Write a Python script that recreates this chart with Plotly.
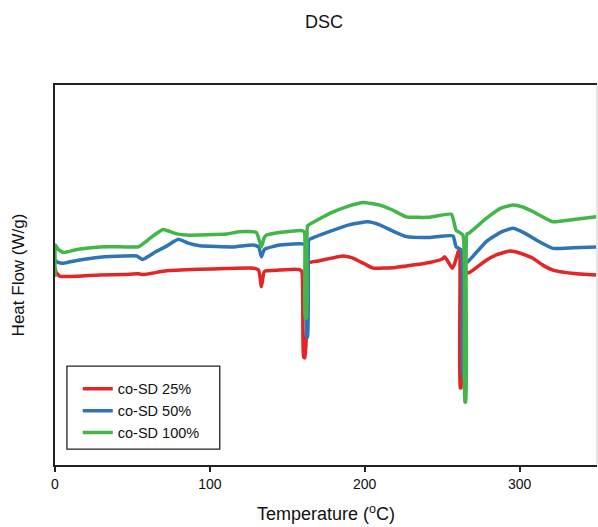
import plotly.graph_objects as go

# Temperature (°C) and heat flow (arbitrary W/g offset units)
t_25 = [0, 0.6, 3, 15, 29, 45, 53.8, 57, 72, 93.5, 110, 128, 131.5, 133.3, 135, 136.6,
        145, 155, 158, 159.5, 160.5, 161.5, 163, 164, 170, 186, 192, 200, 205.4, 220,
        242, 250, 251.6, 254, 256.5, 258, 260.5, 261.3, 261.6, 262.3, 263.5, 267.3,
        278.5, 285, 293.5, 300, 308.6, 315, 321.5, 335, 349.5]
hf_25 = [5.18, 5.08, 4.97, 4.97, 5.00, 5.01, 5.03, 5.01, 5.11, 5.15, 5.17, 5.18, 5.13, 4.69, 5.08, 5.11,
         5.13, 5.15, 5.14, 5.08, 2.84, 2.82, 4.20, 5.32, 5.37, 5.50, 5.45, 5.29, 5.18, 5.20,
         5.33, 5.42, 5.48, 5.34, 5.18, 5.29, 5.63, 5.66, 2.03, 2.03, 5.08, 5.06,
         5.39, 5.53, 5.63, 5.58, 5.44, 5.26, 5.13, 5.04, 5.00]

t_50 = [0, 2, 5.4, 15, 29, 45, 52.7, 56.6, 65, 72, 79.6, 86, 93.5, 115, 128, 131.5, 133.3, 135, 136.6,
        145, 158, 161.8, 162.5, 163.2, 163.8, 164.5, 177, 190, 202, 209.7, 218, 227, 242, 257,
        259, 262.4, 263.4, 264, 264.6, 266.6, 278.5, 288, 295.7, 303, 310.8, 321.5, 335, 349.5]
hf_50 = [5.39, 5.33, 5.31, 5.39, 5.47, 5.50, 5.50, 5.41, 5.61, 5.76, 5.94, 5.84, 5.77, 5.74, 5.79, 5.74, 5.48, 5.66, 5.70,
         5.79, 5.82, 5.80, 3.37, 3.37, 5.92, 5.94, 6.14, 6.32, 6.40, 6.32, 6.16, 6.01, 5.99, 6.03,
         5.74, 5.66, 2.32, 2.32, 5.32, 5.35, 5.88, 6.13, 6.23, 6.11, 5.92, 5.70, 5.72, 5.74]

t_100 = [0, 0.3, 2, 5.4, 15, 29, 45, 53.8, 60, 65, 70, 78, 85, 110.8, 119, 130, 133.3, 135, 136.6,
         145, 159, 161, 161.5, 162.5, 163, 164, 177.4, 190, 199, 209.7, 218, 226.9, 242, 256,
         259, 263.4, 264.6, 265.3, 266, 267.3, 278.5, 288, 295.7, 302, 308.6, 321.5, 335, 349.5]
hf_100 = [4.95, 5.79, 5.68, 5.59, 5.68, 5.74, 5.74, 5.74, 5.92, 6.08, 6.20, 6.09, 6.05, 6.08, 6.14, 6.12, 5.74, 5.97, 6.05,
          6.12, 6.17, 6.13, 3.87, 3.87, 6.29, 6.32, 6.62, 6.82, 6.91, 6.84, 6.71, 6.53, 6.52, 6.60,
          6.18, 6.05, 1.66, 1.66, 6.08, 6.10, 6.49, 6.76, 6.84, 6.79, 6.67, 6.40, 6.46, 6.53]

names = ["co-SD 25%", "co-SD 50%", "co-SD 100%"]
colors = ["#e32526", "#2f74b5", "#43b649"]
x_ticks = [0, 100, 200, 300]

fig = go.Figure()
for t, hf, nm, c in zip([t_25, t_50, t_100], [hf_25, hf_50, hf_100], names, colors):
    fig.add_trace(go.Scatter(x=t, y=hf, mode="lines", name=nm,
                             line=dict(color=c, width=3.5, shape="spline", smoothing=0.4)))

fig.update_layout(
    width=598, height=527,
    margin=dict(l=55, r=1, t=85, b=62),
    paper_bgcolor="white", plot_bgcolor="white",
    font=dict(family="Liberation Sans, Arial, sans-serif", color="#111"),
    title=dict(text="DSC", x=0.542, xref="container", xanchor="center",
               y=1 - 22 / 527, yref="container", yanchor="middle",
               font=dict(size=18, color="#111")),
    xaxis=dict(range=[0, 350], tickvals=x_ticks, ticks="outside", ticklen=5,
               tickwidth=1.5, tickcolor="#222", showgrid=False, zeroline=False,
               showline=True, linecolor="#222", linewidth=1.8, mirror=True,
               tickfont=dict(size=14, color="#111"),
               title=dict(text="Temperature (<sup>o</sup>C)", font=dict(size=18, color="#111"),
                          standoff=17)),
    yaxis=dict(range=[0, 10], showticklabels=False, ticks="", showgrid=False, zeroline=False,
               showline=True, linecolor="#222", linewidth=1.8,
               title=dict(text="Heat Flow (W/g)", font=dict(size=17, color="#111"), standoff=24)),
    legend=dict(x=0.042, y=0.2425, xanchor="left", yanchor="top",
                bgcolor="rgba(0,0,0,0)", borderwidth=0,
                font=dict(size=14.5, color="#111"), tracegroupgap=0),
    showlegend=True,
)
# legend frame and light right border
fig.add_shape(type="rect", xref="paper", yref="paper", x0=0.022, x1=0.304, y0=0.042, y1=0.26,
              line=dict(color="#222", width=1.3), fillcolor="rgba(0,0,0,0)")
fig.add_shape(type="line", xref="paper", yref="paper", x0=1, x1=1, y0=0, y1=1,
              line=dict(color="#dddddd", width=1.5))

fig.write_html("out.html", config={"displayModeBar": False},
               post_script="document.body.style.margin='0';document.body.style.overflow='hidden';")
